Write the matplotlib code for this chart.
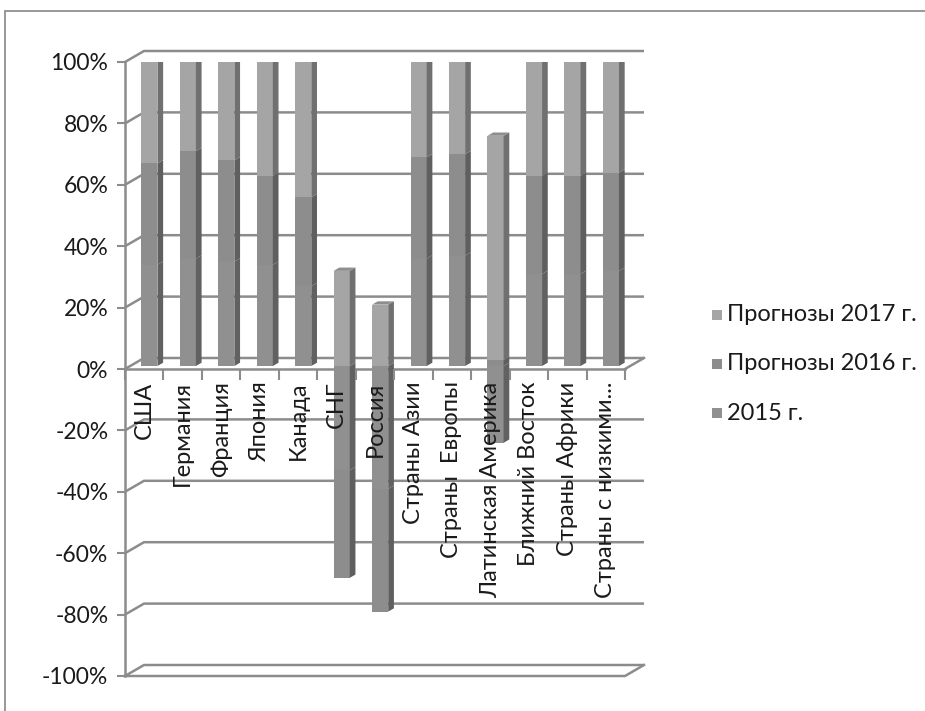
import matplotlib
matplotlib.use('Agg')
import matplotlib.pyplot as plt
from matplotlib.patches import Polygon, Rectangle
from matplotlib.ticker import FixedLocator, NullFormatter

categories = ['США', 'Германия', 'Франция', 'Япония', 'Канада', 'СНГ', 'Россия',
              'Страны Азии', 'Страны  Европы', 'Латинская Америка', 'Ближний Восток',
              'Страны Африки', 'Страны с низкими...']
# shares of each year in the 100% stacked bar (negative = below zero)
y2015 = [33, 35, 34, 33, 26, -34, -40, 35, 36, -25, 30, 30, 31]
y2016 = [33, 35, 33, 29, 29, -35, -40, 33, 33, 2, 32, 32, 32]
y2017 = [34, 30, 33, 38, 45, 31, 20, 32, 31, 73, 38, 38, 37]
series = [('2015 г.', y2015), ('Прогнозы 2016 г.', y2016), ('Прогнозы 2017 г.', y2017)]
yticks = list(range(-100, 101, 20))

front_col = {'2015 г.': '#909090', 'Прогнозы 2016 г.': '#8d8d8d', 'Прогнозы 2017 г.': '#a5a5a5'}
side_col = {'2015 г.': '#616161', 'Прогнозы 2016 г.': '#5f5f5f', 'Прогнозы 2017 г.': '#707070'}
top_col = {'2015 г.': '#7c7c7c', 'Прогнозы 2016 г.': '#7a7a7a', 'Прогнозы 2017 г.': '#8e8e8e'}
grid_col = '#8c8c8c'
txt_col = '#1a1a1a'
font = 'Lato'

W, H = 925, 711
fig = plt.figure(figsize=(W / 100, H / 100), dpi=100)
ax = fig.add_axes([125 / W, 1 - 676 / H, 500 / W, 614 / H])
n = len(categories)
ax.set_xlim(-0.5, n - 0.5)
ax.set_ylim(-100, 100)

# pixel -> data scale, used for the fake 3d depth
px = n / 500
py = 200 / 614
BX, BY = 19 * px, 11 * py          # back wall offset
f0, f1 = 0.27, 0.57                 # bar depth range (fraction of wall depth)
bw = 0.42

# back wall grid lines with the left diagonal
for y in yticks:
    ax.plot([-0.5, -0.5 + BX, n - 0.5 + BX], [y, y + BY, y + BY],
            color=grid_col, lw=1.8, zorder=1, clip_on=False, solid_capstyle='butt')
# floor front edge and right diagonals
ax.plot([-0.5, n - 0.5, n - 0.5 + BX], [-100, -100, -100 + BY],
        color=grid_col, lw=1.8, zorder=1, clip_on=False)
ax.plot([n - 0.5, n - 0.5 + BX], [0, BY], color=grid_col, lw=1.8, zorder=1, clip_on=False)

# bars
for i in range(n):
    pos, neg = 0, 0
    ox, oy = f0 * BX, f0 * BY
    dx, dy = (f1 - f0) * BX, (f1 - f0) * BY
    segs = []
    for name, vals in series:
        v = vals[i]
        if v >= 0:
            segs.append((name, pos, pos + v))
            pos += v
        else:
            segs.append((name, neg + v, neg))
            neg += v
    x0 = i - bw / 2 + ox
    x1 = i + bw / 2 + ox
    for name, b, t in segs:
        if t == b:
            continue
        ax.add_patch(Rectangle((x0, b + oy), bw, t - b, facecolor=front_col[name],
                               edgecolor='none', zorder=3))
        ax.add_patch(Polygon([(x1, b + oy), (x1 + dx, b + oy + dy), (x1 + dx, t + oy + dy), (x1, t + oy)],
                             closed=True, facecolor=side_col[name], edgecolor='none', zorder=3))
    # top face on the highest segment
    name, t = max(((s[0], s[2]) for s in segs), key=lambda s: s[1])
    ax.add_patch(Polygon([(x0, t + oy), (x1, t + oy), (x1 + dx, t + oy + dy), (x0 + dx, t + oy + dy)],
                         closed=True, facecolor=top_col[name], edgecolor='none', zorder=3))

# axes
for s in ['top', 'right']:
    ax.spines[s].set_visible(False)
ax.spines['left'].set_color(grid_col)
ax.spines['left'].set_linewidth(1.8)
ax.spines['bottom'].set_position(('data', 0))
ax.spines['bottom'].set_color(grid_col)
ax.spines['bottom'].set_linewidth(1.8)
ax.spines['bottom'].set_zorder(2)
ax.set_yticks(yticks)
ax.set_yticklabels([f'{t}%' for t in yticks], fontsize=16.5, family=font, color=txt_col)
ax.tick_params(axis='y', length=6, width=1.5, color=grid_col, pad=6)
ax.set_xticks(range(n))
ax.set_xticklabels(categories, rotation=90, fontsize=17, family=font, color=txt_col, va='top')
ax.tick_params(axis='x', which='major', length=0, pad=9)
ax.xaxis.set_minor_locator(FixedLocator([k + 0.5 for k in range(-1, n)]))
ax.xaxis.set_minor_formatter(NullFormatter())
ax.tick_params(axis='x', which='minor', length=8, width=1.5, color=grid_col)
ax.xaxis.set_zorder(5)
ax.patch.set_alpha(0)

# legend
leg_y = [315, 364, 413]
for (name, vals), yy in zip(reversed(series), leg_y):
    fig.patches.append(Rectangle((712 / W, 1 - (yy + 5) / H), 10 / W, 10 / H,
                                 transform=fig.transFigure, facecolor=front_col[name],
                                 edgecolor='none'))
    fig.text(727 / W, 1 - yy / H, name, fontsize=17, family=font, color=txt_col, va='center')

# chart area border
fig.patches.append(Rectangle((5 / W, -0.05), 1.0, 1 - 11 / H + 0.05, transform=fig.transFigure,
                             facecolor='none', edgecolor='#868686', lw=1.2))

fig.savefig('out.png', dpi=100)
